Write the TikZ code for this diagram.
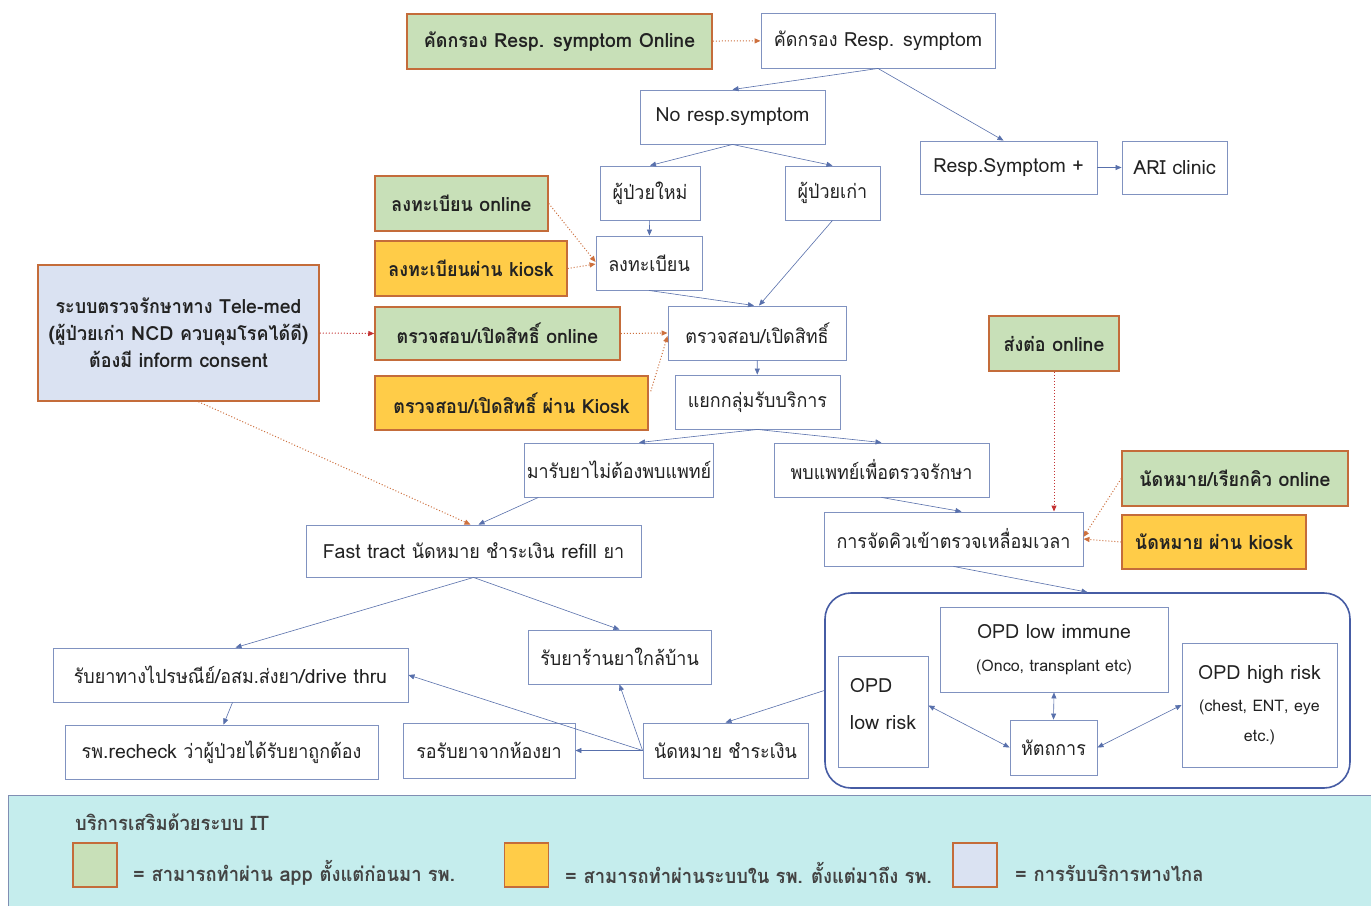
\documentclass[tikz,border=0pt]{standalone}
\usepackage{fontspec}
\setmainfont[Script=Thai]{Loma}
\newfontfamily\thaifam[Script=Thai,FakeStretch=0.92]{Loma}
\newcommand{\tx}[1]{{\thaifam #1}}
\usetikzlibrary{arrows.meta,calc}
\definecolor{bcol}{RGB}{128,146,192}
\definecolor{obrd}{RGB}{196,108,58}
\definecolor{gfill}{RGB}{200,224,184}
\definecolor{yfill}{RGB}{255,204,72}
\definecolor{pfill}{RGB}{218,226,242}
\definecolor{acol}{RGB}{88,112,172}
\definecolor{dcol}{RGB}{205,112,62}
\definecolor{rcol}{RGB}{196,50,50}
\definecolor{txt}{RGB}{34,34,34}
\definecolor{lcyan}{RGB}{197,237,237}
\definecolor{bigcol}{RGB}{70,92,164}
\newcommand{\fs}{\fontsize{19.5}{24}\selectfont}
\newcommand{\fsb}{\fontsize{19.5}{24}\selectfont\bfseries}
\newcommand{\fsm}{\fontsize{16}{20}\selectfont}
\begin{document}
\begin{tikzpicture}[x=1pt,y=-1pt,
  box/.style={draw=bcol, line width=0.9pt, fill=white, inner sep=2pt, align=center, font=\fs, text=txt},
  gbox/.style={box, draw=obrd, fill=gfill, line width=1.5pt, font=\fsb},
  ybox/.style={gbox, fill=yfill},
  pbox/.style={gbox, fill=pfill},
  arr/.style={-{Triangle[length=6pt,width=5pt]}, draw=acol, line width=0.6pt},
  biarr/.style={{Triangle[length=6pt,width=5pt]}-{Triangle[length=6pt,width=5pt]}, draw=acol, line width=0.6pt},
  darr/.style={-{Triangle[length=6pt,width=5pt]}, draw=dcol, dotted, line width=1pt},
  rarr/.style={darr, draw=rcol},
  lgd/.style={font=\fontsize{20}{22}\selectfont\bfseries, text=txt!85!white, anchor=west, inner sep=0pt}
]
\useasboundingbox (0,0) rectangle (1371,906);
\fill[white] (0,0) rectangle (1371,906);

% legend band
\fill[lcyan] (8,795) rectangle (1371,906);
\draw[bcol!80!gray, line width=0.8pt] (8,906) -- (8,795) -- (1371,795);

% nodes
\node[gbox, minimum width=305pt, minimum height=55pt] (g1) at (559.5,41.5) {\tx{คัดกรอง} Resp. symptom Online};
\node[box, minimum width=234pt, minimum height=55pt] (s1) at (878,40.5) {\tx{คัดกรอง} Resp. symptom};
\node[box, minimum width=185pt, minimum height=54pt] (nors) at (732.5,117) {No resp.symptom};
\node[box, minimum width=177pt, minimum height=53pt] (rsp) at (1008.5,167.5) {Resp.Symptom +};
\node[box, minimum width=105pt, minimum height=53pt] (ari) at (1174.5,167.5) {ARI clinic};
\node[box, minimum width=100pt, minimum height=54pt] (newp) at (650,193) {\tx{ผู้ป่วยใหม่}};
\node[box, minimum width=95pt, minimum height=54pt] (oldp) at (832.5,193) {\tx{ผู้ป่วยเก่า}};
\node[gbox, minimum width=173pt, minimum height=55pt] (regon) at (461.5,203.5) {\tx{ลงทะเบียน} online};
\node[ybox, minimum width=192pt, minimum height=55pt] (regk) at (471,268.5) {\tx{ลงทะเบียนผ่าน} kiosk};
\node[box, minimum width=106pt, minimum height=54pt] (reg) at (649,263) {\tx{ลงทะเบียน}};
\node[pbox, minimum width=281pt, minimum height=136pt] (tele) at (178.5,333) {\tx{ระบบตรวจรักษาทาง} Tele-med\\[3pt](\tx{ผู้ป่วยเก่า} NCD \tx{ควบคุมโรคได้ดี})\\[3pt]\tx{ต้องมี} inform consent};
\node[gbox, minimum width=245pt, minimum height=53pt] (chkon) at (497.5,333.5) {\tx{ตรวจสอบ/เปิดสิทธิ์} online};
\node[box, minimum width=178pt, minimum height=54pt] (chk) at (757,333) {\tx{ตรวจสอบ/เปิดสิทธิ์}};
\node[ybox, minimum width=273pt, minimum height=54pt] (chkk) at (511.5,403) {\tx{ตรวจสอบ/เปิดสิทธิ์ ผ่าน} Kiosk};
\node[box, minimum width=165pt, minimum height=54pt] (grp) at (757.5,402) {\tx{แยกกลุ่มรับบริการ}};
\node[gbox, minimum width=130pt, minimum height=55pt] (refon) at (1054,343.5) {\tx{ส่งต่อ} online};
\node[box, minimum width=186pt, minimum height=54pt] (nodoc) at (619,470) {\tx{มารับยาไม่ต้องพบแพทย์}};
\node[box, minimum width=215pt, minimum height=54pt] (doc) at (881.5,470) {\tx{พบแพทย์เพื่อตรวจรักษา}};
\node[gbox, minimum width=226pt, minimum height=55pt] (apon) at (1235,478.5) {\tx{นัดหมาย/เรียกคิว} online};
\node[ybox, minimum width=184pt, minimum height=54pt] (apk) at (1214,542) {\tx{นัดหมาย ผ่าน} kiosk};
\node[box, minimum width=259pt, minimum height=54pt] (queue) at (953.5,539) {\tx{การจัดคิวเข้าตรวจเหลื่อมเวลา}};
\node[box, minimum width=335pt, minimum height=52pt] (fast) at (473.5,551) {Fast tract \tx{นัดหมาย ชำระเงิน} refill \tx{ยา}};

\node[draw=bigcol, line width=1.6pt, rounded corners=26pt, minimum width=525pt, minimum height=195pt, inner sep=0pt] (big) at (1087.5,690.5) {};
\node[box, minimum width=228pt, minimum height=85pt] (lowimm) at (1054,649.5) {OPD low immune\\[9pt]{\fsm (Onco, transplant etc)}};
\node[box, minimum width=90pt, minimum height=111pt, align=left] (lowrisk) at (883,711.5) {OPD\\[13pt]low risk\hspace*{4pt}\\[-8pt]\mbox{}};
\node[box, minimum width=87pt, minimum height=55pt] (proc) at (1053.5,747.5) {\tx{หัตถการ}};
\node[box, minimum width=155pt, minimum height=124pt] (high) at (1259.5,705) {OPD high risk\\[8pt]{\fsm (chest, ENT, eye}\\[6pt]{\fsm etc.)}};

\node[box, minimum width=355pt, minimum height=54pt] (post) at (230.5,675) {\tx{รับยาทางไปรษณีย์/อสม.ส่งยา}/drive thru};
\node[box, minimum width=183pt, minimum height=54pt] (near) at (619.5,657) {\tx{รับยาร้านยาใกล้บ้าน}};
\node[box, minimum width=313pt, minimum height=54pt] (recheck) at (221.5,752) {\tx{รพ}.recheck \tx{ว่าผู้ป่วยได้รับยาถูกต้อง}};
\node[box, minimum width=172pt, minimum height=55pt] (wait) at (489,750.5) {\tx{รอรับยาจากห้องยา}};
\node[box, minimum width=165pt, minimum height=55pt] (pay) at (725.5,750.5) {\tx{นัดหมาย ชำระเงิน}};

% connectors
\draw[darr] (g1) -- (s1);
\draw[arr] (s1.south) -- (nors.north);
\draw[arr] (s1.south) -- ($(rsp.north)+(-5,0)$);
\draw[arr] (rsp) -- (ari);
\draw[arr] (nors.south) -- (newp.north);
\draw[arr] (nors.south) -- (oldp.north);
\draw[arr] (newp) -- (reg);
\draw[arr] (reg.south) -- ($(chk.north)+(-3,0)$);
\draw[arr] (oldp.south) -- ($(chk.north)+(2,0)$);
\draw[darr] (regon.east) -- ($(reg.west)+(0,-1)$);
\draw[darr] (regk.east) -- ($(reg.west)+(0,1)$);
\draw[rarr] (tele.east) -- (chkon.west);
\draw[darr] (chkon.east) -- ($(chk.west)+(0,0)$);
\draw[darr] ($(chkk.north east)+(2,16)$) -- ($(chk.west)+(0,3)$);
\draw[arr] (chk) -- (grp);
\draw[arr] (grp.south) -- ($(nodoc.north)+(20,0)$);
\draw[arr] (grp.south) -- (doc.north);
\draw[arr] ($(nodoc.south west)+(14,0)$) -- ($(fast.north)+(5,0)$);
\draw[darr] ($(tele.south)+(20,0)$) -- ($(fast.north)+(-3,0)$);
\draw[arr] (doc.south) -- ($(queue.north)+(8,0)$);
\draw[rarr] (refon.south) -- (refon.south |- queue.north);
\draw[darr] (apon.west) -- ($(queue.east)+(0,-2)$);
\draw[darr] (apk.west) -- ($(queue.east)+(0,0)$);
\draw[arr] (queue.south) -- (big.north);
\draw[arr] (fast.south) -- ($(post.north)+(5,0)$);
\draw[arr] (fast.south) -- (near.north);
\draw[arr] ($(post.south)+(2,0)$) -- ($(recheck.north)+(2,0)$);
\draw[arr] (big.west) -- (pay.north);
\draw[arr] (pay.west) -- (wait.east);
\draw[arr] (pay.west) -- (near.south);
\draw[arr] (pay.west) -- (post.east);
\draw[biarr] ($(lowrisk.east)+(0,-6)$) -- (proc.west);
\draw[biarr] (lowimm.south) -- (proc.north);
\draw[biarr] ($(high.west)+(0,0)$) -- (proc.east);

% legend
\node[lgd] (lt) at (75,822) {\tx{บริการเสริมด้วยระบบ} IT};
\node[gbox, minimum width=44pt, minimum height=44pt, inner sep=0pt] (lg1) at (95,865) {};
\node[lgd] (lg1t) at (133,873) {= \tx{สามารถทำผ่าน} app \tx{ตั้งแต่ก่อนมา รพ.}};
\node[ybox, minimum width=44pt, minimum height=44pt, inner sep=0pt] (lg2) at (526.5,865) {};
\node[lgd] (lg2t) at (565,873) {= \tx{สามารถทำผ่านระบบใน รพ. ตั้งแต่มาถึง รพ.}};
\node[pbox, minimum width=44pt, minimum height=44pt, inner sep=0pt] (lg3) at (975,865) {};
\node[lgd] (lg3t) at (1015,873) {= \tx{การรับบริการทางไกล}};
\end{tikzpicture}
\end{document}
